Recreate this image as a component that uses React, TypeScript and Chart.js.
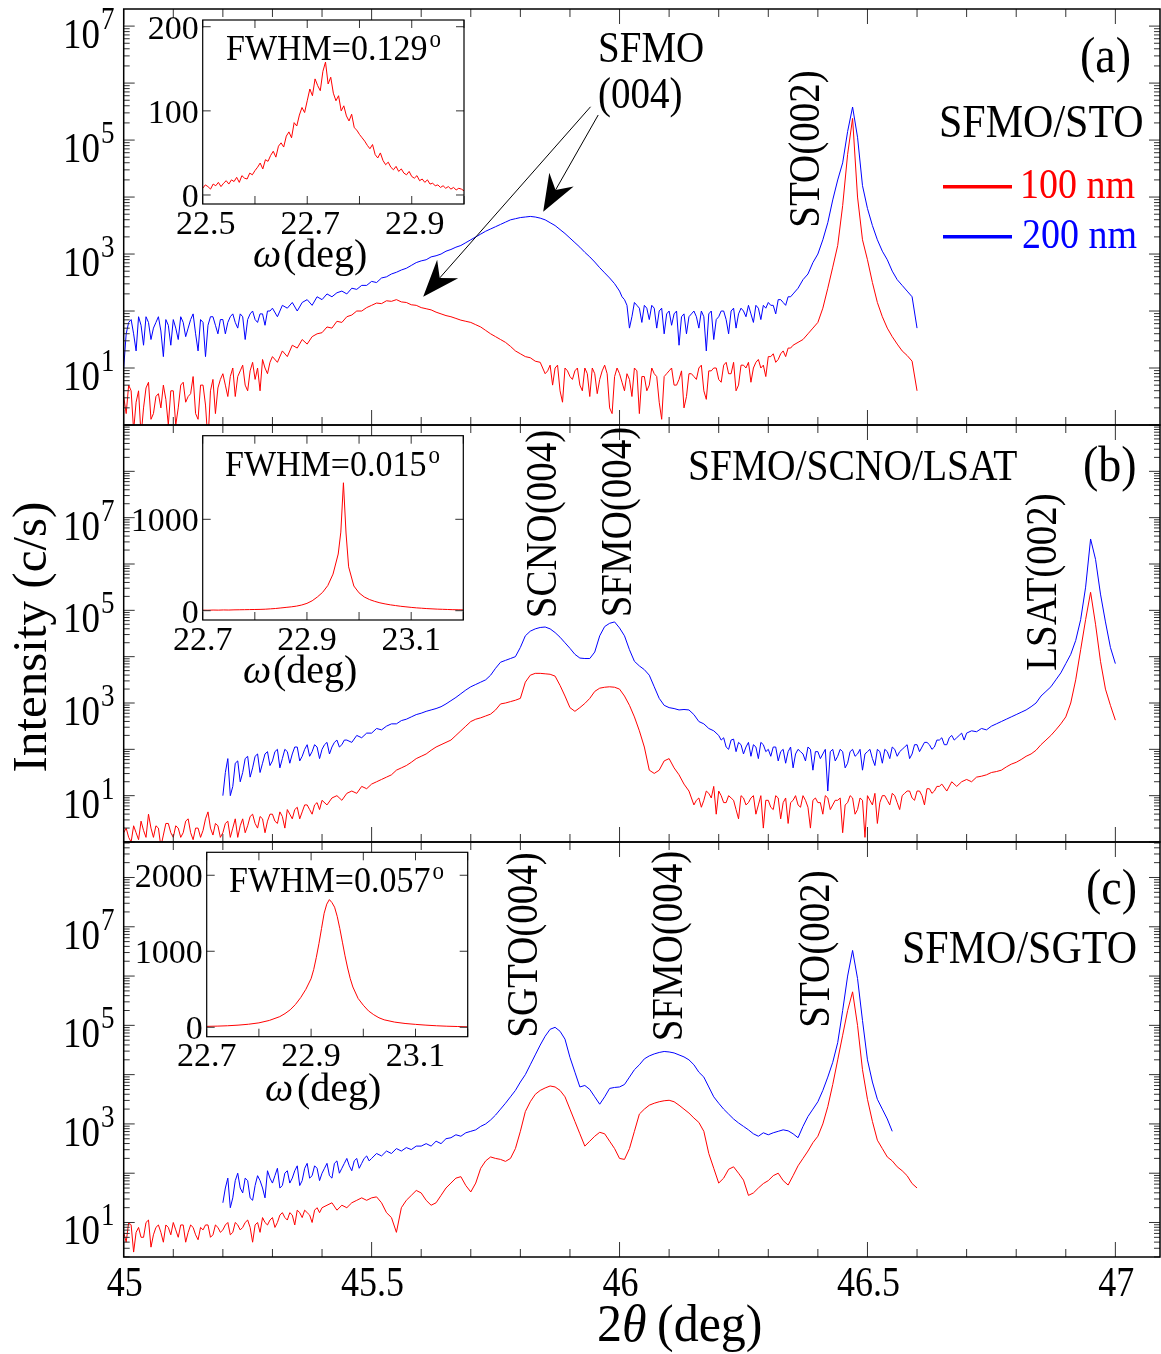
import React, { useEffect, useRef } from "react";
import { Chart, registerables } from "chart.js";
Chart.register(...registerables);

const W = 1161;
const H = 1354;
const RED = "#ff0000";
const BLUE = "#0000ff";
const TICK = "#333333";
const SERIF = '"Liberation Serif", "Times New Roman", "DejaVu Serif", serif';

// ---------------- DATA ----------------
// 2-theta sample positions (deg), shared by all three main panels
const TWO_THETA = [
  45, 45.01, 45.02, 45.03, 45.04, 45.05, 45.06, 45.07, 45.08, 45.09,
  45.1, 45.11, 45.12, 45.13, 45.14, 45.15, 45.16, 45.17, 45.18, 45.19,
  45.2, 45.21, 45.22, 45.23, 45.24, 45.25, 45.26, 45.27, 45.28, 45.29,
  45.3, 45.31, 45.32, 45.33, 45.34, 45.35, 45.36, 45.37, 45.38, 45.39,
  45.4, 45.41, 45.42, 45.43, 45.44, 45.45, 45.46, 45.47, 45.48, 45.49,
  45.5, 45.51, 45.52, 45.53, 45.54, 45.55, 45.56, 45.57, 45.58, 45.59,
  45.6, 45.61, 45.62, 45.63, 45.64, 45.65, 45.66, 45.67, 45.68, 45.69,
  45.7, 45.71, 45.72, 45.73, 45.74, 45.75, 45.76, 45.77, 45.78, 45.79,
  45.8, 45.81, 45.82, 45.83, 45.84, 45.85, 45.86, 45.87, 45.88, 45.89,
  45.9, 45.91, 45.92, 45.93, 45.94, 45.95, 45.96, 45.97, 45.98, 45.99,
  46, 46.01, 46.02, 46.03, 46.04, 46.05, 46.06, 46.07, 46.08, 46.09,
  46.1, 46.11, 46.12, 46.13, 46.14, 46.15, 46.16, 46.17, 46.18, 46.19,
  46.2, 46.21, 46.22, 46.23, 46.24, 46.25, 46.26, 46.27, 46.28, 46.29,
  46.3, 46.31, 46.32, 46.33, 46.34, 46.35, 46.36, 46.37, 46.38, 46.39,
  46.4, 46.41, 46.42, 46.43, 46.44, 46.45, 46.46, 46.47, 46.48, 46.49,
  46.5, 46.51, 46.52, 46.53, 46.54, 46.55, 46.56, 46.57, 46.58, 46.59,
  46.6, 46.61, 46.62, 46.63, 46.64, 46.65, 46.66, 46.67, 46.68, 46.69,
  46.7, 46.71, 46.72, 46.73, 46.74, 46.75, 46.76, 46.77, 46.78, 46.79,
  46.8, 46.81, 46.82, 46.83, 46.84, 46.85, 46.86, 46.87, 46.88, 46.89,
  46.9, 46.91, 46.92, 46.93, 46.94, 46.95, 46.96, 46.97, 46.98, 46.99,
  47,
];
// extra half-step positions, used only where the scans are noisy
const TWO_THETA_MID = [
  45.005, 45.015, 45.025, 45.035, 45.045, 45.055, 45.065, 45.075, 45.085, 45.095,
  45.105, 45.115, 45.125, 45.135, 45.145, 45.155, 45.165, 45.175, 45.185, 45.195,
  45.205, 45.215, 45.225, 45.235, 45.245, 45.255, 45.265, 45.275, 45.285, 45.295,
  45.305, 45.315, 45.325, 45.335, 45.345, 45.355, 45.365, 45.375, 45.385, 45.395,
  45.405, 45.415, 45.425, 45.435, 45.445, 45.455, 45.465, 45.475, 45.485, 45.495,
  45.505, 45.515, 45.525, 45.535, 45.545, 45.555, 45.565, 45.575, 45.585, 45.595,
  45.605, 45.615, 45.625, 45.635, 45.645, 45.655, 45.665, 45.675, 45.685, 45.695,
  45.705, 45.715, 45.725, 45.735, 45.745, 45.755, 45.765, 45.775, 45.785, 45.795,
  45.805, 45.815, 45.825, 45.835, 45.845, 45.855, 45.865, 45.875, 45.885, 45.895,
  45.905, 45.915, 45.925, 45.935, 45.945, 45.955, 45.965, 45.975, 45.985, 45.995,
  46.005, 46.015, 46.025, 46.035, 46.045, 46.055, 46.065, 46.075, 46.085, 46.095,
  46.105, 46.115, 46.125, 46.135, 46.145, 46.155, 46.165, 46.175, 46.185, 46.195,
  46.205, 46.215, 46.225, 46.235, 46.245, 46.255, 46.265, 46.275, 46.285, 46.295,
  46.305, 46.315, 46.325, 46.335, 46.345, 46.355, 46.365, 46.375, 46.385, 46.395,
  46.405, 46.415, 46.425, 46.435, 46.445, 46.455, 46.465, 46.475, 46.485, 46.495,
  46.505, 46.515, 46.525, 46.535, 46.545, 46.555, 46.565, 46.575, 46.585, 46.595,
  46.605, 46.615, 46.625, 46.635, 46.645, 46.655, 46.665, 46.675, 46.685, 46.695,
];

const none = (n: number) => new Array(n).fill(null);

// log10 of intensity (c/s); null = not measured
// (a) SFMO/STO, 100 nm
const A_100NM_LOG = [
  0.5, 0.7, -0.1, 0.6, 0.3, 0.75, 0.2, 0.55, 0.7, 0.0,
  0.6, 0.3, 0.75, 0.5, 0.85, 0.1, 0.7, -0.3, 0.8, 0.65,
  0.9, 0.5, 1.0, 0.85, 1.05, 0.6, 1.1, 1.0, 1.15, 0.9,
  1.2, 1.1, 1.3, 1.2, 1.4, 1.35, 1.5, 1.42, 1.55, 1.6,
  1.62, 1.72, 1.7, 1.82, 1.8, 1.9, 1.93, 2.0, 2.0, 2.06,
  2.1, 2.14, 2.13, 2.18, 2.17, 2.2, 2.16, 2.15, 2.11, 2.1,
  2.06, 2.04, 2.02, 1.98, 1.95, 1.92, 1.9, 1.87, 1.84, 1.82,
  1.8, 1.76, 1.72, 1.66, 1.6, 1.55, 1.5, 1.45, 1.38, 1.3,
  1.25, 1.2, 1.18, 1.12, 1.1, 0.9, 1.05, 1.0, 0.6, 1.0,
  0.85, 0.95, 0.7, 1.0, 0.5, 0.9, 0.8, 1.05, 0.3, 0.85,
  0.9, 0.6, 0.8, 1.0, 0.2, 0.85, 0.7, 0.9, 0.4, 0.85,
  0.95, 0.7, 0.8, 0.3, 0.9, 0.85, 1.0, 0.6, 0.95, 1.0,
  0.8, 1.05, 0.9, 1.1, 0.7, 1.05, 1.1, 1.0, 1.15, 1.05,
  1.2, 1.25, 1.15, 1.3, 1.35, 1.4, 1.45, 1.5, 1.6, 1.7,
  1.8, 2.05, 2.4, 2.77, 3.15, 3.85, 4.75, 5.38, 4.0, 3.25,
  2.9, 2.5, 2.15, 1.9, 1.7, 1.55, 1.42, 1.3, 1.22, 1.12,
  0.6, ...none(40),
];
const A_100NM_MID_LOG = [
  0.2, 0.6, 0.4, -0.2, 0.65, 0.1, 0.5, 0.3, 0.45, 0.6,
  0.0, 0.7, 0.4, 0.55, 0.2, 0.7, 0.35, 0.6, 0.2, 0.8,
  0.7, 0.85, 0.5, 0.95, 0.7, 0.95, 0.8, 0.6, 1.0, 1.1,
  ...none(55),
  0.95, 0.7, 1.05, 0.4, 0.95, 0.8, 1.0, 0.6, 0.9, 1.0,
  0.55, 0.95, 0.9, 0.2, 1.0, 0.75, 0.9, 0.5, 0.95, 0.85,
  0.6, 1.0, 0.85, 0.1, 0.9, 1.0, 0.7, 0.95, 0.5, 0.9,
  0.8, 1.05, 0.45, 0.95, 1.0, 0.75, 1.1, 0.9, 0.6, 1.05,
  1.0, 0.75, 1.1, 1.0, 0.85, 1.2, 1.1, 1.25, 1.2, 1.35,
];
// (a) SFMO/STO, 200 nm
const A_200NM_LOG = [
  1.0, 1.8, 1.6, 1.9, 1.4, 1.8, 1.7, 1.9, 1.2, 1.75,
  1.85, 1.5, 1.8, 1.7, 1.95, 1.3, 1.8, 1.75, 1.9, 1.6,
  1.85, 1.8, 1.95, 1.7, 1.9, 1.85, 2.0, 1.8, 1.95, 2.0,
  2.05, 1.9, 2.1, 2.05, 2.15, 2.0, 2.15, 2.2, 2.1, 2.25,
  2.2, 2.3, 2.25, 2.32, 2.35, 2.3, 2.4, 2.38, 2.45, 2.45,
  2.52, 2.5, 2.58, 2.6, 2.65, 2.68, 2.72, 2.75, 2.8, 2.85,
  2.88, 2.9, 2.95, 2.97, 3.0, 3.05, 3.08, 3.12, 3.15, 3.2,
  3.25, 3.3, 3.35, 3.4, 3.44, 3.48, 3.52, 3.56, 3.6, 3.62,
  3.64, 3.65, 3.66, 3.65, 3.63, 3.6, 3.55, 3.5, 3.43, 3.36,
  3.28, 3.2, 3.12, 3.03, 2.95, 2.86, 2.76, 2.67, 2.58, 2.48,
  2.35, 2.2, 1.7, 2.15, 2.05, 2.1, 1.85, 2.05, 2.0, 1.6,
  2.0, 1.95, 1.4, 1.95, 1.9, 2.0, 1.7, 1.9, 1.95, 1.5,
  1.9, 2.0, 1.6, 2.05, 1.95, 2.0, 2.1, 1.8, 2.05, 2.1,
  2.15, 2.1, 2.2, 2.15, 2.25, 2.3, 2.4, 2.55, 2.65, 2.85,
  3.0, 3.25, 3.55, 3.95, 4.3, 4.6, 5.15, 5.58, 5.05, 4.2,
  3.8, 3.5, 3.25, 3.05, 2.9, 2.7, 2.55, 2.45, 2.35, 2.25,
  1.7, ...none(40),
];
const A_200NM_MID_LOG = [
  1.6, 1.85, 1.3, 1.75, 1.9, 1.5, 1.8, 1.65, 1.85, 1.4,
  1.7, 1.9, 1.55, 1.85, 1.6, 1.85, 1.2, 1.9, 1.75, 1.85,
  1.6, 1.9, 1.8, 1.95, 1.5, 1.95, 1.85, 1.95, 1.75, 2.0,
  ...none(70),
  2.25, 2.1, 1.9, 2.1, 1.8, 2.05, 2.1, 1.7, 2.05, 1.95,
  1.75, 2.0, 1.9, 1.6, 1.95, 1.9, 2.0, 1.3, 2.0, 1.85,
  2.0, 1.85, 2.0, 1.7, 2.05, 1.9, 1.95, 2.1, 1.85, 2.05,
  2.1, 1.95, 2.2, 2.1, 2.25,
];
// (b) SFMO/SCNO/LSAT, 100 nm
const B_100NM_LOG = [
  0.2, 0.1, 0.35, 0.05, 0.25, 0.6, 0.1, 0.3, 0.15, 0.4,
  0.1, 0.3, 0.2, 0.5, 0.05, 0.3, 0.25, 0.65, 0.15, 0.35,
  0.2, 0.45, 0.3, 0.1, 0.5, 0.35, 0.6, 0.3, 0.5, 0.45,
  0.6, 0.4, 0.55, 0.7, 0.5, 0.75, 0.65, 0.8, 0.6, 0.85,
  0.9, 0.8, 0.95, 1.0, 0.9, 1.05, 1.1, 1.05, 1.2, 1.15,
  1.25, 1.3, 1.35, 1.4, 1.45, 1.55, 1.6, 1.65, 1.72, 1.8,
  1.85, 1.9, 1.98, 2.05, 2.1, 2.15, 2.2, 2.3, 2.4, 2.5,
  2.6, 2.65, 2.68, 2.72, 2.76, 2.85, 2.98, 3.0, 3.03, 3.06,
  3.1, 3.45, 3.6, 3.64, 3.64, 3.63, 3.62, 3.58, 3.38, 3.15,
  2.9, 2.82, 2.9, 2.99, 3.1, 3.25, 3.32, 3.34, 3.35, 3.34,
  3.3, 3.15, 2.95, 2.7, 2.4, 2.05, 1.55, 1.48, 1.55, 1.75,
  1.8, 1.6, 1.45, 1.25, 1.1, 0.8, 0.95, 0.9, 1.05, 1.2,
  1.1, 0.85, 1.0, 0.9, 0.5, 0.95, 0.85, 1.0, 0.8, 0.3,
  0.9, 0.7, 0.95, 0.85, 0.4, 0.9, 0.8, 1.0, 0.75, 0.9,
  0.85, 0.6, 0.95, 0.8, 0.9, 0.2, 0.85, 0.95, 0.7, 0.9,
  1.0, 0.8, 0.4, 1.0, 0.9, 1.05, 0.85, 1.0, 1.1, 0.95,
  1.1, 1.0, 1.15, 1.05, 1.2, 1.25, 1.1, 1.3, 1.2, 1.3,
  1.35, 1.3, 1.4, 1.42, 1.45, 1.5, 1.52, 1.55, 1.62, 1.68,
  1.72, 1.78, 1.85, 1.9, 1.98, 2.1, 2.2, 2.3, 2.42, 2.55,
  2.7, 3.0, 3.5, 4.15, 4.8, 5.39, 4.7, 3.9, 3.3, 2.95,
  2.63,
];
const B_100NM_MID_LOG = [
  0.3, 0.0, 0.2, 0.45, 0.1, 0.3, 0.35, -0.1, 0.4, 0.2,
  0.35, 0.1, 0.45, 0.2, 0.3, 0.1, 0.5, 0.3, 0.4, 0.1,
  0.4, 0.1, 0.5, 0.35, 0.2, 0.55, 0.4, 0.55, 0.2, 0.6,
  0.45, 0.65, 0.3, 0.6, 0.7, 0.5, 0.8, 0.7, 0.8, 0.7,
  ...none(75),
  0.9, 0.75, 1.1, 0.95, 0.6, 1.0, 0.85, 0.95, 0.7, 1.0,
  0.8, 0.95, 0.6, 1.0, 0.9, 0.75, 1.0, 0.5, 0.95, 0.85,
  1.0, 0.75, 0.9, 0.3, 0.95, 0.85, 1.0, 0.7, 0.9, 0.95,
  0.8, 1.0, 0.6, 0.95, 0.1, 0.9, 1.05, 0.85, 1.0, 0.8,
  1.0, 0.7, 1.05, 1.1, 0.9, 1.1, 0.8, 1.15, 1.1, 1.2,
];
// (b) SFMO/SCNO/LSAT, 200 nm
const B_200NM_LOG = [
  ...none(20),
  1.0, 1.8, 1.2, 1.75, 1.5, 1.85, 1.6, 1.9, 1.7, 1.95,
  1.75, 2.0, 1.8, 1.95, 1.9, 2.05, 1.85, 2.1, 1.95, 2.05,
  2.0, 2.15, 2.05, 2.2, 2.1, 2.2, 2.15, 2.3, 2.25, 2.35,
  2.35, 2.45, 2.42, 2.5, 2.55, 2.55, 2.62, 2.65, 2.7, 2.75,
  2.78, 2.82, 2.85, 2.88, 2.92, 2.98, 3.05, 3.12, 3.2, 3.28,
  3.35, 3.4, 3.45, 3.5, 3.6, 3.75, 3.88, 3.92, 3.96, 4.0,
  4.2, 4.45, 4.55, 4.6, 4.63, 4.64, 4.6, 4.52, 4.42, 4.3,
  4.18, 4.05, 3.97, 3.96, 3.96, 4.1, 4.45, 4.65, 4.72, 4.75,
  4.62, 4.45, 4.15, 3.9, 3.8, 3.72, 3.6, 3.35, 3.1, 2.95,
  2.9, 2.88, 2.85, 2.86, 2.85, 2.75, 2.6, 2.55, 2.45, 2.4,
  2.3, 2.25, 2.0, 2.22, 2.15, 1.9, 2.15, 2.1, 1.8, 2.1,
  2.0, 2.05, 1.75, 2.0, 1.95, 1.6, 2.0, 1.9, 2.05, 1.55,
  1.95, 1.9, 1.1, 2.0, 1.85, 1.95, 1.7, 2.0, 1.9, 1.55,
  1.95, 1.8, 2.0, 1.7, 1.95, 2.05, 1.85, 2.0, 2.1, 1.9,
  2.1, 2.05, 2.15, 2.0, 2.2, 2.25, 2.1, 2.3, 2.25, 2.35,
  2.35, 2.4, 2.38, 2.45, 2.42, 2.5, 2.55, 2.6, 2.65, 2.7,
  2.75, 2.8, 2.85, 2.92, 3.0, 3.15, 3.25, 3.35, 3.5, 3.65,
  3.85, 4.05, 4.35, 4.8, 5.5, 6.54, 6.1, 5.35, 4.75, 4.2,
  3.85,
];
const B_200NM_MID_LOG = [
  ...none(20),
  1.5, 1.0, 1.7, 1.3, 1.8, 1.4, 1.85, 1.5, 1.9, 1.65,
  1.95, 1.6, 2.0, 1.7, 2.05, 1.75, 2.0, 1.85, 2.1, 1.8,
  2.1, 1.9, 2.15, 2.05, 2.2,
  ...none(75),
  2.2, 2.05, 2.2, 1.95, 2.1, 2.05, 1.85, 2.05, 2.15, 1.95,
  1.85, 2.05, 1.95, 1.7, 2.05, 1.9, 1.95, 1.75, 2.0, 1.95,
  1.8, 2.0, 1.95, 1.75, 2.0, 1.6, 1.95, 1.85, 2.0, 1.9,
  2.0, 1.65, 1.95, 2.0, 1.8, 2.0, 1.95, 2.05, 1.8, 2.1,
  1.95, 2.15, 2.1, 2.05, 2.2, 2.1, 2.25, 2.2, 2.3, 2.2,
];
// (c) SFMO/SGTO, 100 nm
const C_100NM_LOG = [
  0.8, 1.0, 0.4, 0.9, 0.7, 1.05, 0.75, 0.95, 0.6, 0.9,
  1.0, 0.7, 0.95, 0.8, 0.9, 0.65, 0.85, 0.95, 0.75, 0.9,
  0.85, 1.0, 0.8, 0.95, 0.9, 1.05, 0.6, 1.0, 1.1, 0.95,
  1.1, 1.0, 1.2, 1.05, 1.15, 1.25, 1.1, 1.2, 1.0, 1.3,
  1.3, 1.35, 1.4, 1.25, 1.35, 1.3, 1.4, 1.45, 1.5, 1.45,
  1.5, 1.52, 1.4, 1.2, 1.1, 0.8, 1.3, 1.45, 1.55, 1.65,
  1.6, 1.45, 1.35, 1.4, 1.55, 1.7, 1.8, 1.9, 1.93, 1.75,
  1.62, 1.8, 2.1, 2.25, 2.33, 2.3, 2.28, 2.24, 2.3, 2.5,
  2.85, 3.25, 3.45, 3.6, 3.68, 3.73, 3.77, 3.75, 3.68, 3.55,
  3.3, 3.05, 2.8, 2.55, 2.65, 2.75, 2.83, 2.8, 2.65, 2.5,
  2.3, 2.28, 2.5, 2.85, 3.2, 3.3, 3.38, 3.42, 3.45, 3.47,
  3.48, 3.45, 3.38, 3.3, 3.22, 3.12, 3.03, 2.85, 2.4, 2.1,
  1.8, 1.9, 2.08, 2.13, 2.0, 1.86, 1.55, 1.6, 1.7, 1.79,
  1.85, 1.95, 2.0, 1.85, 1.76, 1.95, 2.15, 2.3, 2.45, 2.62,
  2.75, 3.0, 3.35, 3.8, 4.3, 4.8, 5.3, 5.68, 5.0, 4.1,
  3.5, 3.05, 2.67, 2.5, 2.33, 2.25, 2.13, 2.05, 1.95, 1.79,
  1.7, ...none(40),
];
const C_100NM_MID_LOG = [
  0.6, 0.95, 0.8, 0.7, 1.0, 0.5, 0.9, 0.8, 0.95, 0.75,
  0.85, 0.95, 0.6, 0.95, 0.75, 0.9, 0.95, 0.7, 0.95, 0.8,
  0.95, 0.75, 1.0, 0.85, 1.0, 0.9, 0.95, 0.8, 1.0, 1.05,
  0.9, 1.15, 1.1, 1.2, 0.95, 1.2, 1.25, 1.15, 1.25, 1.2,
];
// (c) SFMO/SGTO, 200 nm
const C_200NM_LOG = [
  ...none(20),
  1.4, 1.9, 1.5, 2.0, 1.6, 1.85, 1.45, 1.95, 1.7, 2.05,
  1.8, 2.1, 1.75, 2.05, 1.9, 2.15, 1.85, 2.2, 1.95, 2.1,
  2.0, 2.2, 1.9, 2.25, 2.1, 2.3, 2.05, 2.3, 2.2, 2.35,
  2.3, 2.4, 2.35, 2.45, 2.4, 2.5, 2.45, 2.52, 2.48, 2.55,
  2.55, 2.6, 2.55, 2.65, 2.6, 2.7, 2.72, 2.78, 2.75, 2.82,
  2.85, 2.88, 2.95, 3.0, 3.08, 3.18, 3.3, 3.42, 3.55, 3.68,
  3.85, 4.0, 4.2, 4.4, 4.6, 4.78, 4.92, 4.96, 4.88, 4.72,
  4.35, 4.05, 3.75, 3.78, 3.7, 3.55, 3.4, 3.55, 3.72, 3.74,
  3.75, 3.8, 3.95, 4.1, 4.2, 4.32, 4.38, 4.42, 4.45, 4.47,
  4.46, 4.44, 4.4, 4.36, 4.3, 4.2, 4.05, 3.95, 3.75, 3.55,
  3.42, 3.3, 3.2, 3.1, 3.02, 2.95, 2.88, 2.8, 2.75, 2.82,
  2.78, 2.82, 2.85, 2.88, 2.86, 2.8, 2.72, 2.95, 3.15, 3.3,
  3.45, 3.68, 3.95, 4.25, 4.65, 5.3, 6.0, 6.52, 5.95, 5.1,
  4.3, 3.85, 3.5, 3.3, 3.1, 2.85,
  ...none(45),
];
const C_200NM_MID_LOG = [
  ...none(20),
  1.7, 1.3, 1.85, 1.7, 1.9, 1.5, 1.75, 1.85, 1.5, 1.9,
  1.95, 1.7, 2.0, 1.8, 2.05, 1.75, 2.1, 1.9, 2.15, 1.85,
  2.1, 1.95, 2.2, 2.0, 2.2, 2.15, 2.25, 2.1, 2.3, 2.25,
];

// Insets: rocking curves (omega in deg, counts)
const INSET_A_OMEGA = [
  22.5, 22.505, 22.51, 22.515, 22.52, 22.525, 22.53, 22.535, 22.54, 22.545,
  22.55, 22.555, 22.56, 22.565, 22.57, 22.575, 22.58, 22.585, 22.59, 22.595,
  22.6, 22.605, 22.61, 22.615, 22.62, 22.625, 22.63, 22.635, 22.64, 22.645,
  22.65, 22.655, 22.66, 22.665, 22.67, 22.675, 22.68, 22.685, 22.69, 22.695,
  22.7, 22.705, 22.71, 22.715, 22.72, 22.725, 22.73, 22.735, 22.74, 22.745,
  22.75, 22.755, 22.76, 22.765, 22.77, 22.775, 22.78, 22.785, 22.79, 22.795,
  22.8, 22.805, 22.81, 22.815, 22.82, 22.825, 22.83, 22.835, 22.84, 22.845,
  22.85, 22.855, 22.86, 22.865, 22.87, 22.875, 22.88, 22.885, 22.89, 22.895,
  22.9, 22.905, 22.91, 22.915, 22.92, 22.925, 22.93, 22.935, 22.94, 22.945,
  22.95, 22.955, 22.96, 22.965, 22.97, 22.975, 22.98, 22.985, 22.99, 22.995,
  23,
];
const INSET_A_COUNTS = [
  8, 12, 10, 7, 13, 11, 15, 10, 14, 17,
  13, 18, 16, 21, 15, 23, 20, 19, 26, 24,
  29, 33, 38, 31, 42, 40, 47, 52, 45, 58,
  62, 57, 70, 75, 68, 86, 82, 95, 104, 98,
  112, 126, 118, 138, 130, 124, 147, 158, 132, 140,
  121, 112, 118, 100, 106, 94, 88, 96, 80, 77,
  72, 68, 64, 59, 55, 60, 48, 44, 50, 41,
  36, 39, 33, 30, 34, 28, 31, 26, 24, 28,
  22, 20, 23, 17, 19, 15, 18, 13, 14, 11,
  12, 9, 11, 8, 10, 7, 9, 6, 8, 7,
  5,
];
const INSET_B_OMEGA = [
  22.7, 22.71, 22.72, 22.73, 22.74, 22.75, 22.76, 22.77, 22.78, 22.79,
  22.8, 22.81, 22.82, 22.83, 22.84, 22.85, 22.86, 22.87, 22.88, 22.89,
  22.9, 22.91, 22.92, 22.93, 22.94, 22.95, 22.96, 22.965, 22.97, 22.975,
  22.98, 22.99, 23, 23.01, 23.02, 23.03, 23.04, 23.05, 23.06, 23.07,
  23.08, 23.09, 23.1, 23.11, 23.12, 23.13, 23.14, 23.15, 23.16, 23.17,
  23.18, 23.19, 23.2,
];
const INSET_B_COUNTS = [
  6, 5, 7, 6, 8, 7, 9, 10, 11, 12,
  13, 14, 16, 20, 24, 30, 36, 42, 50, 62,
  80, 108, 150, 200, 275, 400, 620, 860, 1400, 850,
  480, 270, 195, 150, 122, 102, 86, 74, 64, 56,
  48, 42, 36, 31, 27, 23, 20, 17, 15, 13,
  11, 10, 9,
];
const INSET_C_OMEGA = [
  22.7, 22.72, 22.74, 22.76, 22.78, 22.8, 22.82, 22.84, 22.85, 22.86,
  22.87, 22.88, 22.89, 22.9, 22.905, 22.91, 22.915, 22.92, 22.925, 22.93,
  22.935, 22.94, 22.945, 22.95, 22.955, 22.96, 22.965, 22.97, 22.975, 22.98,
  22.99, 23, 23.01, 23.02, 23.03, 23.04, 23.06, 23.08, 23.1, 23.12,
  23.14, 23.16, 23.18, 23.2,
];
const INSET_C_COUNTS = [
  12, 15, 20, 28, 40, 58, 90, 140, 180, 230,
  300, 390, 500, 640, 760, 920, 1100, 1300, 1500, 1620,
  1680, 1640, 1580, 1460, 1300, 1120, 940, 780, 640, 530,
  380, 290, 215, 165, 125, 98, 68, 50, 38, 28,
  20, 14, 10, 6,
];

// axis tick labels
const X_LABEL_VALUES = [45, 45.5, 46, 46.5, 47];
const X_LABELS = ["45", "45.5", "46", "46.5", "47"];
const Y_LABEL_EXPONENTS = [1, 3, 5, 7];

// ---------------- drawing helpers ----------------
type TOpt = {
  size: number;
  sy?: number;
  sx?: number;
  align?: CanvasTextAlign;
  color?: string;
  italic?: boolean;
  rot?: boolean;
};
function txt(ctx: CanvasRenderingContext2D, s: string, x: number, y: number, o: TOpt) {
  ctx.save();
  ctx.translate(x, y);
  if (o.rot) ctx.rotate(-Math.PI / 2);
  ctx.scale(o.sx ?? 1, o.sy ?? 1);
  ctx.font = `${o.italic ? "italic " : ""}${o.size}px ${SERIF}`;
  ctx.fillStyle = o.color ?? "#000";
  ctx.textAlign = o.align ?? "left";
  ctx.textBaseline = "alphabetic";
  ctx.fillText(s, 0, 0);
  ctx.restore();
}
function textWidth(ctx: CanvasRenderingContext2D, s: string, size: number) {
  ctx.save();
  ctx.font = `${size}px ${SERIF}`;
  const w = ctx.measureText(s).width;
  ctx.restore();
  return w;
}
function arrow(ctx: CanvasRenderingContext2D, x1: number, y1: number, tx: number, ty: number) {
  const dx = x1 - tx, dy = y1 - ty;
  const len = Math.hypot(dx, dy);
  const ux = dx / len, uy = dy / len;
  const nx = -uy, ny = ux;
  const hl = 37, hw = 14, notch = 25;
  ctx.save();
  ctx.strokeStyle = "#000";
  ctx.lineWidth = 1;
  ctx.beginPath();
  ctx.moveTo(x1, y1);
  ctx.lineTo(tx + ux * notch, ty + uy * notch);
  ctx.stroke();
  ctx.fillStyle = "#000";
  ctx.beginPath();
  ctx.moveTo(tx, ty);
  ctx.lineTo(tx + ux * hl + nx * hw, ty + uy * hl + ny * hw);
  ctx.lineTo(tx + ux * notch, ty + uy * notch);
  ctx.lineTo(tx + ux * hl - nx * hw, ty + uy * hl - ny * hw);
  ctx.closePath();
  ctx.fill();
  ctx.restore();
}

// merge the regular grid with the optional half-step samples
function scanPoints(main: (number | null)[], mid: (number | null)[]) {
  const out: { x: number; y: number | null }[] = [];
  TWO_THETA.forEach((x, i) => {
    const v = main[i];
    out.push({ x, y: v == null ? null : Math.pow(10, v) });
    const m = mid[i];
    if (i < TWO_THETA_MID.length && m != null) out.push({ x: TWO_THETA_MID[i], y: Math.pow(10, m) });
  });
  return out;
}
const lin = (xs: number[], ys: number[]) => xs.map((x, i) => ({ x, y: ys[i] }));

// ---------------- panel config ----------------
type Panel = {
  id: string;
  left: number; right: number; top: number; bottom: number;
  yLo: number; yHi: number;
  red: (number | null)[]; redMid: (number | null)[];
  blue: (number | null)[]; blueMid: (number | null)[];
  xLabels: boolean;
  annotate: (ctx: CanvasRenderingContext2D, chart: any) => void;
};

const ROT = { size: 39, sy: 1.13, rot: true, align: "center" as CanvasTextAlign };

const PANELS: Panel[] = [
  {
    id: "a", left: 123.7, right: 1160, top: 9, bottom: 425, yLo: 0, yHi: 7.3,
    red: A_100NM_LOG, redMid: A_100NM_MID_LOG, blue: A_200NM_LOG, blueMid: A_200NM_MID_LOG, xLabels: false,
    annotate: (ctx, chart) => {
      const xs = chart.scales.x, ys = chart.scales.y;
      txt(ctx, "SFMO", 598, 62, { size: 39, sy: 1.13 });
      txt(ctx, "(004)", 598, 108, { size: 39, sy: 1.13 });
      arrow(ctx, xs.getPixelForValue(45.9415), ys.getPixelForValue(Math.pow(10, 5.584)),
        xs.getPixelForValue(45.604), ys.getPixelForValue(Math.pow(10, 2.251)));
      arrow(ctx, xs.getPixelForValue(45.957), ys.getPixelForValue(Math.pow(10, 5.44)),
        xs.getPixelForValue(45.846), ys.getPixelForValue(Math.pow(10, 3.742)));
      txt(ctx, "STO(002)", 819, 149, ROT);
      txt(ctx, "(a)", 1080, 72, { size: 46, sy: 1.1 });
      txt(ctx, "SFMO/STO", 939, 137, { size: 42, sy: 1.1 });
      ctx.save();
      ctx.lineWidth = 3.5;
      ctx.strokeStyle = RED;
      ctx.beginPath(); ctx.moveTo(943, 186.7); ctx.lineTo(1012, 186.7); ctx.stroke();
      ctx.strokeStyle = BLUE;
      ctx.beginPath(); ctx.moveTo(943, 236.7); ctx.lineTo(1012, 236.7); ctx.stroke();
      ctx.restore();
      txt(ctx, "100 nm", 1020, 198, { size: 38, sy: 1.1, color: RED });
      txt(ctx, "200 nm", 1022, 248, { size: 38, sy: 1.1, color: BLUE });
    },
  },
  {
    id: "b", left: 123.7, right: 1160, top: 425, bottom: 842, yLo: 0, yHi: 9,
    red: B_100NM_LOG, redMid: B_100NM_MID_LOG, blue: B_200NM_LOG, blueMid: B_200NM_MID_LOG, xLabels: false,
    annotate: (ctx) => {
      txt(ctx, "SCNO(004)", 556, 524, ROT);
      txt(ctx, "SFMO(004)", 631, 522, ROT);
      txt(ctx, "LSAT(002)", 1056, 582, ROT);
      txt(ctx, "SFMO/SCNO/LSAT", 688, 480, { size: 39.5, sy: 1.1 });
      txt(ctx, "(b)", 1083, 481, { size: 46, sy: 1.1 });
      // y axis title
      txt(ctx, "Intensity (c/s)", 45.5, 637, { size: 49, rot: true, align: "center" });
    },
  },
  {
    id: "c", left: 123.7, right: 1160, top: 842, bottom: 1257, yLo: 0.3, yHi: 8.72,
    red: C_100NM_LOG, redMid: C_100NM_MID_LOG, blue: C_200NM_LOG, blueMid: C_200NM_MID_LOG, xLabels: true,
    annotate: (ctx) => {
      txt(ctx, "SGTO(004)", 537, 945, ROT);
      txt(ctx, "SFMO(004)", 682, 946, ROT);
      txt(ctx, "STO(002)", 829, 949, ROT);
      txt(ctx, "SFMO/SGTO", 902, 963, { size: 42, sy: 1.1 });
      txt(ctx, "(c)", 1086, 904, { size: 46, sy: 1.1 });
      // x axis title: 2θ (deg)
      txt(ctx, "2", 597, 1341, { size: 50, sy: 1.05 });
      txt(ctx, "θ", 622, 1341, { size: 50, sy: 1.05, italic: true });
      txt(ctx, "(deg)", 657, 1341, { size: 50, sy: 1.05 });
    },
  },
];

function mainPlugin(p: Panel) {
  return {
    id: "frame" + p.id,
    afterDatasetsDraw(chart: any) {
      const ctx: CanvasRenderingContext2D = chart.ctx;
      const { left, right, top, bottom } = chart.chartArea;
      const xs = chart.scales.x, ys = chart.scales.y;
      ctx.save();
      ctx.strokeStyle = TICK;
      ctx.lineWidth = 1;
      ctx.beginPath();
      for (let i = 0; i <= 20; i++) {
        const px = xs.getPixelForValue(45 + i * 0.1);
        const len = i % 5 === 0 ? 15 : 8;
        ctx.moveTo(px, bottom); ctx.lineTo(px, bottom - len);
        ctx.moveTo(px, top); ctx.lineTo(px, top + len);
      }
      for (let e = Math.floor(p.yLo); e <= Math.ceil(p.yHi); e++) {
        for (let m = 1; m <= 9; m++) {
          const lv = e + Math.log10(m);
          if (lv < p.yLo - 1e-6 || lv > p.yHi + 1e-6) continue;
          const py = ys.getPixelForValue(m * Math.pow(10, e));
          const len = m === 1 ? 11 : 6;
          ctx.moveTo(left, py); ctx.lineTo(left + len, py);
          ctx.moveTo(right, py); ctx.lineTo(right - len, py);
        }
      }
      ctx.stroke();
      ctx.strokeStyle = "#000";
      ctx.lineWidth = 1.5;
      ctx.strokeRect(left, top, right - left, bottom - top);
      ctx.restore();
      for (const e of Y_LABEL_EXPONENTS) {
        const py = ys.getPixelForValue(Math.pow(10, e));
        txt(ctx, "10", 100, py + 22, { size: 37, sy: 1.13, align: "right" });
        txt(ctx, String(e), 101, py + 3, { size: 27, sy: 1.13 });
      }
      if (p.xLabels) {
        X_LABEL_VALUES.forEach((v, i) => {
          txt(ctx, X_LABELS[i], xs.getPixelForValue(v) + 1, 1296, { size: 36, sy: 1.15, align: "center" });
        });
      }
      p.annotate(ctx, chart);
    },
  };
}

// ---------------- inset config ----------------
type Inset = {
  id: string;
  left: number; right: number; top: number; bottom: number;
  xMin: number; xMax: number; yMin: number; yMax: number;
  omega: number[]; counts: number[];
  xLabelVals: number[]; xLabels: string[]; xLabelShift: number;
  yLabelVals: number[]; yLabels: string[];
  fwhm: string; fwhmX: number; fwhmBase: number;
  omegaX: number; degX: number; omegaBase: number;
};

const INSETS: Inset[] = [
  {
    id: "ia", left: 202.7, right: 464, top: 20, bottom: 204,
    xMin: 22.5, xMax: 23.0, yMin: -10.7, yMax: 208,
    omega: INSET_A_OMEGA, counts: INSET_A_COUNTS,
    xLabelVals: [22.5, 22.7, 22.9], xLabels: ["22.5", "22.7", "22.9"], xLabelShift: 3,
    yLabelVals: [0, 100, 200], yLabels: ["0", "100", "200"],
    fwhm: "FWHM=0.129", fwhmX: 226, fwhmBase: 60,
    omegaX: 253, degX: 283, omegaBase: 267,
  },
  {
    id: "ib", left: 202.7, right: 463.3, top: 435.7, bottom: 620,
    xMin: 22.7, xMax: 23.2, yMin: -102, yMax: 1915,
    omega: INSET_B_OMEGA, counts: INSET_B_COUNTS,
    xLabelVals: [22.7, 22.9, 23.1], xLabels: ["22.7", "22.9", "23.1"], xLabelShift: 0,
    yLabelVals: [0, 1000], yLabels: ["0", "1000"],
    fwhm: "FWHM=0.015", fwhmX: 225, fwhmBase: 476,
    omegaX: 243, degX: 273, omegaBase: 683,
  },
  {
    id: "ic", left: 206.7, right: 467.7, top: 852.3, bottom: 1036.7,
    xMin: 22.7, xMax: 23.2, yMin: -124, yMax: 2302,
    omega: INSET_C_OMEGA, counts: INSET_C_COUNTS,
    xLabelVals: [22.7, 22.9, 23.1], xLabels: ["22.7", "22.9", "23.1"], xLabelShift: 0,
    yLabelVals: [0, 1000, 2000], yLabels: ["0", "1000", "2000"],
    fwhm: "FWHM=0.057", fwhmX: 229, fwhmBase: 892,
    omegaX: 265, degX: 297, omegaBase: 1101,
  },
];

function insetPlugin(q: Inset) {
  return {
    id: "inset" + q.id,
    beforeDatasetsDraw(chart: any) {
      const ctx: CanvasRenderingContext2D = chart.ctx;
      const { left, right, top, bottom } = chart.chartArea;
      ctx.save();
      ctx.fillStyle = "#fff";
      ctx.fillRect(left, top, right - left, bottom - top);
      ctx.restore();
    },
    afterDatasetsDraw(chart: any) {
      const ctx: CanvasRenderingContext2D = chart.ctx;
      const { left, right, top, bottom } = chart.chartArea;
      const xs = chart.scales.x, ys = chart.scales.y;
      ctx.save();
      ctx.strokeStyle = TICK;
      ctx.lineWidth = 1;
      ctx.beginPath();
      const nX = Math.round((q.xMax - q.xMin) / 0.1);
      for (let i = 0; i <= nX; i++) {
        const px = xs.getPixelForValue(q.xMin + i * 0.1);
        ctx.moveTo(px, bottom); ctx.lineTo(px, bottom - 8);
        ctx.moveTo(px, top); ctx.lineTo(px, top + 8);
      }
      for (const v of q.yLabelVals) {
        const py = ys.getPixelForValue(v);
        ctx.moveTo(left, py); ctx.lineTo(left + 8, py);
        ctx.moveTo(right, py); ctx.lineTo(right - 8, py);
      }
      ctx.stroke();
      ctx.strokeStyle = "#000";
      ctx.lineWidth = 1.2;
      ctx.strokeRect(left, top, right - left, bottom - top);
      ctx.restore();
      q.yLabelVals.forEach((v, i) => {
        txt(ctx, q.yLabels[i], left - 4, ys.getPixelForValue(v) + 12, { size: 34, align: "right" });
      });
      q.xLabelVals.forEach((v, i) => {
        txt(ctx, q.xLabels[i], xs.getPixelForValue(v) + q.xLabelShift, bottom + 29.5, { size: 34, align: "center" });
      });
      txt(ctx, q.fwhm, q.fwhmX, q.fwhmBase, { size: 34, sy: 1.08 });
      const w = textWidth(ctx, q.fwhm, 34);
      txt(ctx, "o", q.fwhmX + w + 2, q.fwhmBase - 13, { size: 23, sy: 1.1 });
      txt(ctx, "ω", q.omegaX, q.omegaBase, { size: 40, italic: true });
      txt(ctx, "(deg)", q.degX, q.omegaBase, { size: 40 });
    },
  };
}

// ---------------- component ----------------
export default function App() {
  const canvases = useRef<(HTMLCanvasElement | null)[]>([]);

  useEffect(() => {
    const charts: Chart[] = [];
    PANELS.forEach((p, i) => {
      const cv = canvases.current[i];
      if (!cv) return;
      charts.push(
        new Chart(cv, {
          type: "line",
          data: {
            datasets: [
              { label: "100 nm", data: scanPoints(p.red, p.redMid) as any, borderColor: RED, borderWidth: 1, pointRadius: 0, fill: false, tension: 0, spanGaps: false },
              { label: "200 nm", data: scanPoints(p.blue, p.blueMid) as any, borderColor: BLUE, borderWidth: 1, pointRadius: 0, fill: false, tension: 0, spanGaps: false },
            ],
          },
          options: {
            animation: false,
            responsive: false,
            devicePixelRatio: 1,
            events: [],
            layout: { autoPadding: false, padding: { left: p.left, right: W - p.right, top: p.top, bottom: H - p.bottom } },
            plugins: { legend: { display: false }, tooltip: { enabled: false } },
            scales: {
              x: { type: "linear", min: 45, max: 47.09, display: false },
              y: { type: "logarithmic", min: Math.pow(10, p.yLo), max: Math.pow(10, p.yHi), display: false },
            },
          } as any,
          plugins: [mainPlugin(p)],
        })
      );
    });
    INSETS.forEach((q, j) => {
      const cv = canvases.current[3 + j];
      if (!cv) return;
      charts.push(
        new Chart(cv, {
          type: "line",
          data: {
            datasets: [
              { label: "rocking curve", data: lin(q.omega, q.counts) as any, borderColor: RED, borderWidth: 1, pointRadius: 0, fill: false, tension: 0 },
            ],
          },
          options: {
            animation: false,
            responsive: false,
            devicePixelRatio: 1,
            events: [],
            layout: { autoPadding: false, padding: { left: q.left, right: W - q.right, top: q.top, bottom: H - q.bottom } },
            plugins: { legend: { display: false }, tooltip: { enabled: false } },
            scales: {
              x: { type: "linear", min: q.xMin, max: q.xMax, display: false },
              y: { type: "linear", min: q.yMin, max: q.yMax, display: false },
            },
          } as any,
          plugins: [insetPlugin(q)],
        })
      );
    });
    return () => charts.forEach((c) => c.destroy());
  }, []);

  return (
    <div style={{ position: "absolute", left: 0, top: 0, width: W, height: H, background: "#fff", overflow: "hidden" }}>
      {[0, 1, 2, 3, 4, 5].map((i) => (
        <canvas
          key={i}
          ref={(el) => { canvases.current[i] = el; }}
          width={W}
          height={H}
          style={{ position: "absolute", left: 0, top: 0, width: W, height: H }}
        />
      ))}
    </div>
  );
}
